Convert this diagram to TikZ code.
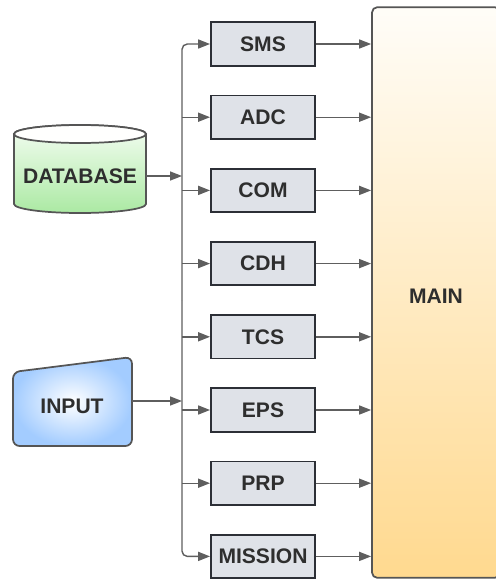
\documentclass[tikz,border=0pt]{standalone}
\usepackage{fontspec}
\setmainfont{Liberation Sans}
\usetikzlibrary{arrows.meta}

\definecolor{boxfill}{HTML}{DFE2E8}
\definecolor{boxedge}{HTML}{2C2F36}
\definecolor{linkgray}{HTML}{5E5E5E}
\definecolor{txtgray}{HTML}{2E2E2E}
\definecolor{maintop}{HTML}{FFFDF8}
\definecolor{mainbot}{HTML}{FFD98F}
\definecolor{dbtop}{HTML}{F4FDF2}
\definecolor{dbbot}{HTML}{ABE9A3}
\definecolor{inpouter}{HTML}{A3CCFF}
\definecolor{shapeedge}{HTML}{555555}

\begin{document}
\begin{tikzpicture}[x=0.75pt,y=-0.75pt,
  lbl/.style={font=\bfseries\fontsize{15.8}{18}\selectfont, text=txtgray},
  subsys/.style={lbl, draw=boxedge, line width=1.4pt, fill=boxfill,
    minimum width=78pt, minimum height=32.5pt, inner sep=0pt},
  link/.style={draw=linkgray, line width=1.05pt,
    -{Triangle[length=9pt,width=6.8pt]}},
  bus/.style={link, rounded corners=4pt},
]
\useasboundingbox (0,0) rectangle (496,579);
\clip (0,0) rectangle (496,579);

% main controller block (runs past the right edge)
\node[draw=shapeedge, line width=1.3pt, rounded corners=4pt,
  top color=maintop, bottom color=mainbot,
  minimum width=96pt, minimum height=428pt, inner sep=0pt]
  (main) at (436,292.5) {};
\node[lbl] (mainlbl) at (436,296) {MAIN};

% subsystem blocks
\node[subsys] (sms)     at (263,44)    {SMS};
\node[subsys] (adc)     at (263,117.2) {ADC};
\node[subsys] (com)     at (263,190.4) {COM};
\node[subsys] (cdh)     at (263,263.6) {CDH};
\node[subsys] (tcs)     at (263,336.8) {TCS};
\node[subsys] (eps)     at (263,410)   {EPS};
\node[subsys] (prp)     at (263,483.2) {PRP};
\node[subsys] (mission) at (263,556.4) {MISSION};

% database cylinder
\path[draw=shapeedge, line width=1.3pt, top color=dbtop, bottom color=dbbot]
  (14,134) -- (14,204) arc (180:360:49.5pt and 6.75pt)
  -- (146,134) arc (0:180:49.5pt and 6.75pt) -- cycle;
\path[draw=shapeedge, line width=1.3pt, fill=white!96!dbtop]
  (80,134) ellipse (49.5pt and 6.75pt);
\node[lbl] (db) at (80,176) {DATABASE};
\coordinate (dbout) at (146,176);

% manual input shape
\path[draw=shapeedge, line width=1.3pt, rounded corners=5pt,
  inner color=white, outer color=inpouter]
  (13,372) -- (132,357) -- (132,446) -- (13,446) -- cycle;
\node[lbl] (inp) at (72,406) {INPUT};
\coordinate (inpout) at (132,401);

% distribution bus
\coordinate (trunk) at (182,300);
\draw[bus] (trunk) |- (sms.west);
\draw[bus] (trunk) |- (mission.west);
\foreach \b in {adc,com,cdh,tcs,eps,prp}
  \draw[link] (trunk |- \b.west) -- (\b.west);

% sources onto the bus
\draw[link] (dbout) -- (trunk |- dbout);
\draw[link] (inpout) -- (trunk |- inpout);

% subsystems into main
\foreach \b in {sms,adc,com,cdh,tcs,eps,prp,mission}
  \draw[link] (\b.east) -- (\b.east -| main.west);
\end{tikzpicture}
\end{document}
